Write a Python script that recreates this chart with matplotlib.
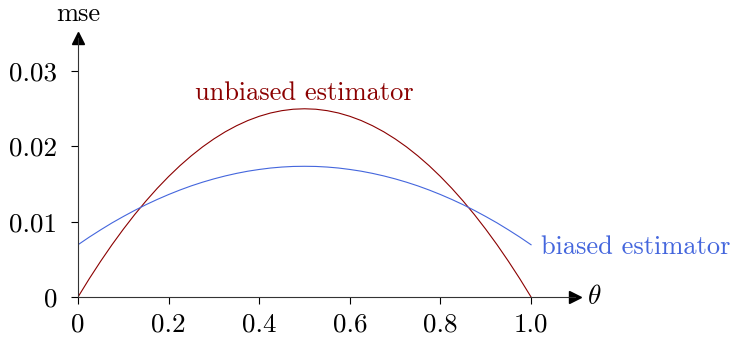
import matplotlib
matplotlib.use("Agg")
from matplotlib import pyplot as plt

plt.rcParams["font.family"] = "serif"
plt.rcParams["font.serif"] = ["cmr10"]
plt.rcParams["mathtext.fontset"] = "cm"
plt.rcParams["axes.formatter.use_mathtext"] = True

# valores
theta = [0.0, 0.025, 0.05, 0.075, 0.1, 0.125, 0.15, 0.175, 0.2, 0.225, 0.25,
         0.275, 0.3, 0.325, 0.35, 0.375, 0.4, 0.425, 0.45, 0.475, 0.5,
         0.525, 0.55, 0.575, 0.6, 0.625, 0.65, 0.675, 0.7, 0.725, 0.75,
         0.775, 0.8, 0.825, 0.85, 0.875, 0.9, 0.925, 0.95, 0.975, 1.0]
mse_insesgado = [0.0, 0.00244, 0.00475, 0.00694, 0.009, 0.01094, 0.01275, 0.01444, 0.016, 0.01744, 0.01875,
                 0.01994, 0.021, 0.02194, 0.02275, 0.02344, 0.024, 0.02444, 0.02475, 0.02494, 0.025,
                 0.02494, 0.02475, 0.02444, 0.024, 0.02344, 0.02275, 0.02194, 0.021, 0.01994, 0.01875,
                 0.01744, 0.016, 0.01444, 0.01275, 0.01094, 0.009, 0.00694, 0.00475, 0.00244, 0.0]
mse_sesgado = [0.00694, 0.00796, 0.00892, 0.00984, 0.01069, 0.0115, 0.01226, 0.01296, 0.01361, 0.01421, 0.01476,
               0.01525, 0.01569, 0.01608, 0.01642, 0.01671, 0.01694, 0.01713, 0.01726, 0.01734, 0.01736,
               0.01734, 0.01726, 0.01713, 0.01694, 0.01671, 0.01642, 0.01608, 0.01569, 0.01525, 0.01476,
               0.01421, 0.01361, 0.01296, 0.01226, 0.0115, 0.01069, 0.00984, 0.00892, 0.00796, 0.00694]
x_ticks = [0, 0.2, 0.4, 0.6, 0.8, 1.0]
x_labels = ["0", "0.2", "0.4", "0.6", "0.8", "1.0"]
y_ticks = [0, 0.01, 0.02, 0.03]
y_labels = ["0", "0.01", "0.02", "0.03"]

rojo = "#8b0000"
azul = "#4466dd"

fig = plt.figure(figsize=(7.31, 3.41), dpi=100)
ax = fig.add_axes([78 / 731, 44 / 341, 497 / 731, 259 / 341])

ax.plot(theta, mse_insesgado, color=rojo, lw=0.8)
ax.plot(theta, mse_sesgado, color=azul, lw=0.8)

ax.set_xlim(0, 1.097)
ax.set_ylim(0, 0.0344)

for s in ["top", "right"]:
    ax.spines[s].set_visible(False)
for s in ["left", "bottom"]:
    ax.spines[s].set_color("#333333")
    ax.spines[s].set_linewidth(0.8)

ax.set_xticks(x_ticks)
ax.set_xticklabels(x_labels)
ax.set_yticks(y_ticks)
ax.set_yticklabels(y_labels)
ax.tick_params(labelsize=19.5, length=5, width=0.8, direction="out")
ax.tick_params(axis="x", pad=6)
ax.tick_params(axis="y", pad=10)

# flechas de los ejes
ax.plot(1.0, 0, ">k", ms=9, transform=ax.transAxes, clip_on=False)
ax.plot(0, 1.0, "^k", ms=9, transform=ax.transAxes, clip_on=False)

ax.text(1.025, 0, r"$\theta$", transform=ax.transAxes, fontsize=19.5, va="center", ha="left")
ax.text(0, 1.045, "mse", transform=ax.transAxes, fontsize=19, va="bottom", ha="center")

ax.text(0.5, 0.0255, "unbiased estimator", color=rojo, fontsize=19, ha="center", va="bottom")
ax.text(1.022, 0.0066, "biased estimator", color=azul, fontsize=19, ha="left", va="center")

plt.savefig("out.png", dpi=100)
